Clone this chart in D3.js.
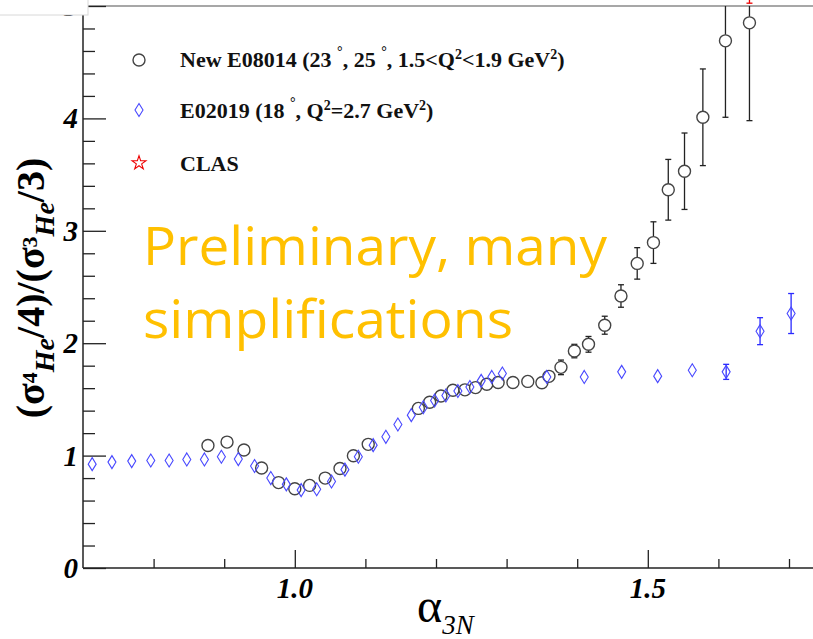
<!DOCTYPE html>
<html><head><meta charset="utf-8">
<script src="https://cdn.jsdelivr.net/npm/d3@7"></script>
<style>body{margin:0;background:#fff}svg{display:block}</style>
</head><body>
<script>
// ---------- data ----------
const e08014Alpha = [0.877,0.904,0.928,0.953,0.977,1.000,1.021,1.043,1.064,1.083,1.104,1.175,1.191,1.207,1.224,1.241,1.256,1.272,1.288,1.309,1.330,1.350,1.360,1.377,1.396,1.416,1.439,1.462,1.485,1.508,1.529,1.552,1.578,1.610,1.644];
const e08014Ratio = [1.09,1.12,1.05,0.89,0.76,0.705,0.735,0.80,0.885,0.998,1.10,1.42,1.475,1.53,1.582,1.585,1.605,1.635,1.65,1.65,1.66,1.648,1.705,1.785,1.93,1.99,2.16,2.42,2.71,2.895,3.365,3.53,4.01,4.69,4.85];
const e08014Err   = [0.02,0.02,0.02,0.02,0.02,0.02,0.02,0.02,0.02,0.02,0.02,0.02,0.02,0.02,0.02,0.02,0.02,0.02,0.02,0.02,0.02,0.02,0.03,0.065,0.06,0.07,0.08,0.10,0.14,0.185,0.27,0.34,0.43,0.68,0.87];

const e02019Alpha = [0.713,0.741,0.769,0.796,0.822,0.847,0.872,0.896,0.920,0.943,0.966,0.988,1.009,1.031,1.052,1.071,1.090,1.111,1.129,1.146,1.165,1.182,1.198,1.214,1.231,1.248,1.264,1.279,1.294,1.357,1.410,1.463,1.514,1.563,1.611,1.659,1.703];
const e02019Ratio = [0.924,0.942,0.951,0.957,0.957,0.966,0.966,0.99,0.969,0.907,0.80,0.744,0.693,0.70,0.77,0.875,0.99,1.093,1.167,1.277,1.36,1.43,1.49,1.535,1.575,1.61,1.665,1.70,1.73,1.70,1.70,1.745,1.707,1.76,1.745,2.107,2.264];
const e02019Err   = [0,0,0,0,0,0,0,0,0,0,0,0,0,0,0,0,0,0,0,0,0,0,0,0,0,0,0,0,0,0,0,0,0,0,0.067,0.12,0.178];

const clasAlpha = [1.644];
const clasRatio = [5.16];
const clasErr   = [0.135];

const xTicksMajor = [1.0, 1.5];
const xTicksMinor = [0.8, 0.9, 1.1, 1.2, 1.3, 1.4, 1.6, 1.7];
const yTicksMajor = [0, 1, 2, 3, 4, 5];
const yTicksMinor = [0.2,0.4,0.6,0.8,1.2,1.4,1.6,1.8,2.2,2.4,2.6,2.8,3.2,3.4,3.6,3.8,4.2,4.4,4.6,4.8];
const xTickLabels = ["1.0", "1.5"];
const yTickLabels = ["0", "1", "2", "3", "4", "5"];

// ---------- layout ----------
const W = 813, H = 639;
const x = d3.scaleLinear().domain([0.7, 1.8]).range([83, 859.6]);
const y = d3.scaleLinear().domain([0, 5]).range([568, 6]);

const svg = d3.select("body").append("svg").attr("width", W).attr("height", H);
const serif = "'Liberation Serif','DejaVu Serif',serif";

svg.append("defs").append("clipPath").attr("id","plotclip")
  .append("rect").attr("x", 83).attr("y", 6).attr("width", W - 83).attr("height", 562);

// preliminary text (behind data)
const yel = svg.append("g").attr("fill","#FFC000").attr("font-family","'Open Sans','Noto Sans',sans-serif");
yel.append("text").attr("x",143).attr("y",265).attr("font-size",53)
  .attr("textLength",464).attr("lengthAdjust","spacingAndGlyphs").text("Preliminary, many");
yel.append("text").attr("x",143).attr("y",338).attr("font-size",53)
  .attr("textLength",370).attr("lengthAdjust","spacingAndGlyphs").text("simplifications");

// top frame line (gray)
svg.append("line").attr("x1",83).attr("x2",W).attr("y1",y(5)).attr("y2",y(5))
  .attr("stroke","#8a8a8a").attr("stroke-width",1.5);

// axes with d3 axis generators
const xMajor = d3.axisBottom(x).tickValues(xTicksMajor).tickSize(-18).tickFormat("");
const xMinor = d3.axisBottom(x).tickValues(xTicksMinor).tickSize(-9).tickFormat("");
const yMajor = d3.axisLeft(y).tickValues(yTicksMajor).tickSize(-23).tickFormat("");
const yMinor = d3.axisLeft(y).tickValues(yTicksMinor).tickSize(-12).tickFormat("");
[[xMajor,"translate(0,568)"],[xMinor,"translate(0,568)"],[yMajor,"translate(83,0)"],[yMinor,"translate(83,0)"]]
  .forEach(([a,t])=>{
    const g = svg.append("g").attr("transform",t).call(a);
    g.select(".domain").remove();
    g.selectAll(".tick line").attr("stroke","#222").attr("stroke-width",1.3);
  });
svg.append("line").attr("x1",83).attr("x2",83).attr("y1",y(5)).attr("y2",568).attr("stroke","#222").attr("stroke-width",1.5);
svg.append("line").attr("x1",83).attr("x2",W).attr("y1",568).attr("y2",568).attr("stroke","#222").attr("stroke-width",1.5);

// tick labels
svg.append("g").selectAll("text").data(yTicksMajor).join("text")
  .attr("x",78).attr("y",d=>y(d)+10).attr("text-anchor","end")
  .attr("font-family",serif).attr("font-weight","bold").attr("font-style","italic").attr("font-size",29)
  .text((d,i)=>yTickLabels[i]);
svg.append("g").selectAll("text").data(xTicksMajor).join("text")
  .attr("x",d=>x(d)).attr("y",598).attr("text-anchor","middle")
  .attr("font-family",serif).attr("font-weight","bold").attr("font-style","italic").attr("font-size",29)
  .text((d,i)=>xTickLabels[i]);

// white box covering top-left corner
svg.append("rect").attr("x",-1).attr("y",-1).attr("width",89).attr("height",16)
  .attr("fill","#fff").attr("stroke","#d8d8d8");

// axis titles
const xl = svg.append("text").attr("x",417).attr("y",622).attr("font-family",serif);
xl.append("tspan").attr("font-size",48).text("α");
xl.append("tspan").attr("font-size",27).attr("font-style","italic").attr("dy",12).text("3N");

const yl = svg.append("text").attr("transform","translate(44,288) rotate(-90)")
  .attr("text-anchor","middle").attr("font-family",serif).attr("font-weight","bold").attr("font-size",40);
yl.append("tspan").text("(σ");
yl.append("tspan").attr("font-size",22).attr("dy",-7).text("4");
yl.append("tspan").attr("font-size",28).attr("font-style","italic").attr("dy",17).text("He");
yl.append("tspan").attr("dy",-10).text("/4)/(σ");
yl.append("tspan").attr("font-size",22).attr("dy",-7).text("3");
yl.append("tspan").attr("font-size",28).attr("font-style","italic").attr("dy",17).text("He");
yl.append("tspan").attr("dy",-10).text("/3)");

// data
const plot = svg.append("g").attr("clip-path","url(#plotclip)");
const circ = e08014Alpha.map((a,i)=>({a, v:e08014Ratio[i], e:e08014Err[i]}));
const diam = e02019Alpha.map((a,i)=>({a, v:e02019Ratio[i], e:e02019Err[i]}));

function errBars(g, data, color){
  const eg = g.append("g").attr("stroke",color).attr("stroke-width",1.3);
  data.filter(d=>d.e>0).forEach(d=>{
    eg.append("line").attr("x1",x(d.a)).attr("x2",x(d.a)).attr("y1",y(d.v+d.e)).attr("y2",y(d.v-d.e));
    [d.v+d.e, d.v-d.e].forEach(v=>eg.append("line").attr("x1",x(d.a)-3).attr("x2",x(d.a)+3).attr("y1",y(v)).attr("y2",y(v)));
  });
}
errBars(plot, circ, "#222");

plot.append("g").selectAll("circle").data(circ).join("circle")
  .attr("cx",d=>x(d.a)).attr("cy",d=>y(d.v)).attr("r",6)
  .attr("fill","#fff").attr("stroke","#444").attr("stroke-width",1.4);

errBars(plot, diam, "#2a2aff");
plot.append("g").selectAll("path").data(diam).join("path")
  .attr("d","M0,-6.5L4,0L0,6.5L-4,0Z")
  .attr("transform",d=>`translate(${x(d.a)},${y(d.v)})`)
  .attr("fill","none").attr("stroke","#4848ff").attr("stroke-width",1.1);

// CLAS point (above the frame, only its error bar tail shows)
const clas = clasAlpha.map((a,i)=>({a, v:clasRatio[i], e:clasErr[i]}));
const star = d3.symbol().type(d3.symbolStar).size(60);
errBars(svg, clas, "#e00");
svg.append("g").selectAll("path").data(clas).join("path")
  .attr("d",star).attr("transform",d=>`translate(${x(d.a)},${y(d.v)})`)
  .attr("fill","none").attr("stroke","#e00").attr("stroke-width",1.5);

// legend
const leg = svg.append("g").attr("font-family",serif).attr("font-weight","bold").attr("font-size",22).attr("fill","#111");
leg.append("circle").attr("cx",139).attr("cy",60).attr("r",6).attr("fill","none").attr("stroke","#444").attr("stroke-width",1.4);
leg.append("path").attr("d","M0,-6.5L4,0L0,6.5L-4,0Z").attr("transform","translate(139,110)")
  .attr("fill","none").attr("stroke","#4848ff").attr("stroke-width",1.1);
leg.append("path").attr("d",star).attr("transform","translate(139,163)").attr("fill","none").attr("stroke","#e00").attr("stroke-width",1.1);

function legText(yb, parts){
  const t = leg.append("text").attr("x",180).attr("y",yb);
  parts.forEach(p=>{
    if (typeof p === "string") t.append("tspan").text(p);
    else t.append("tspan").attr("font-size",p.s).attr("dy",p.dy).text(p.t);
  });
  return t;
}
const deg = (str)=>[{t:" ",s:22,dy:0},{t:"°",s:14,dy:-11},{t:str,s:22,dy:11}];
legText(67, ["New E08014 (23", ...deg(", 25"), ...deg(", 1.5<Q"), {t:"2",s:14,dy:-8},{t:"<1.9 GeV",s:22,dy:8},{t:"2",s:14,dy:-8},{t:")",s:22,dy:8}]);
legText(118, ["E02019 (18", ...deg(", Q"), {t:"2",s:14,dy:-8},{t:"=2.7 GeV",s:22,dy:8},{t:"2",s:14,dy:-8},{t:")",s:22,dy:8}]);
legText(171, ["CLAS"]);
</script>
</body></html>
